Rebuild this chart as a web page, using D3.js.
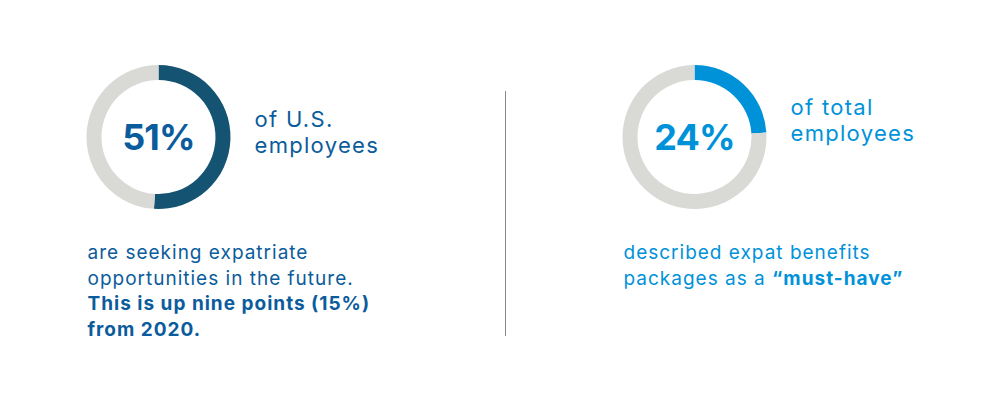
<!DOCTYPE html>
<html>
<head>
<meta charset="utf-8">
<script src="https://cdn.jsdelivr.net/npm/d3@7"></script>
<style>
  body { margin: 0; background: #fff; }
  text { font-family: "Inter", sans-serif; }
</style>
</head>
<body>
<script>
// values
var shares = [51, 24];
var shareLabels = ["51%", "24%"];
var sideLines = [["of U.S.", "employees"], ["of total", "employees"]];
var noteLines = [
  [["are seeking expatriate", false], ["opportunities in the future.", false],
   ["This is up nine points (15%)", true], ["from 2020.", true]],
  [["described expat benefits", false], ["packages as a ", false, "\u201cmust-have\u201d"]]
];

//globals
var width = 1006, height = 394;
var centers = [[158.5, 137], [694.5, 137]];
var arcColors = ["#155373", "#0092d9"];
var textColors = ["#0b5c9c", "#0092d9"];
var outerR = 72, innerR = 57;
var sideY = [127, 115];

var svg = d3.select("body").append("svg")
    .attr("width", width)
    .attr("height", height);

var pie = d3.pie().sort(null).value(function(d){ return d; });
var arc = d3.arc().innerRadius(innerR).outerRadius(outerR);

shares.forEach(function(v, i){
    var g = svg.append("g")
        .attr("transform", "translate(" + centers[i][0] + "," + centers[i][1] + ")");

    g.selectAll("path")
        .data(pie([v, 100 - v]))
        .enter()
        .append("path")
        .attr("d", arc)
        .attr("fill", function(d, j){ return j === 0 ? arcColors[i] : "#d9d9d6"; });

    g.append("text")
        .attr("text-anchor", "middle")
        .attr("y", 13)
        .attr("font-size", 36)
        .attr("font-weight", 700)
        .attr("letter-spacing", -0.8)
        .attr("fill", textColors[i])
        .text(shareLabels[i]);

    // text to the right of the ring
    sideLines[i].forEach(function(s, k){
        svg.append("text")
            .attr("x", centers[i][0] + 96)
            .attr("y", sideY[i] + k * 26)
            .attr("font-size", 22)
            .attr("letter-spacing", 1.3)
            .attr("fill", textColors[i])
            .text(s);
    });

    // note under the ring
    noteLines[i].forEach(function(l, k){
        var t = svg.append("text")
            .attr("x", centers[i][0] - 71)
            .attr("y", 259 + k * 25.7)
            .attr("font-size", 19)
            .attr("letter-spacing", 1)
            .attr("fill", textColors[i]);
        t.append("tspan")
            .attr("font-weight", l[1] ? 700 : 400)
            .text(l[0]);
        if (l[2]) t.append("tspan").attr("font-weight", 700).text(l[2]);
    });
});

// divider
svg.append("line")
    .attr("x1", 505.5).attr("x2", 505.5)
    .attr("y1", 91).attr("y2", 336)
    .attr("stroke", "#8a8a8a")
    .attr("stroke-width", 1);
</script>
</body>
</html>
